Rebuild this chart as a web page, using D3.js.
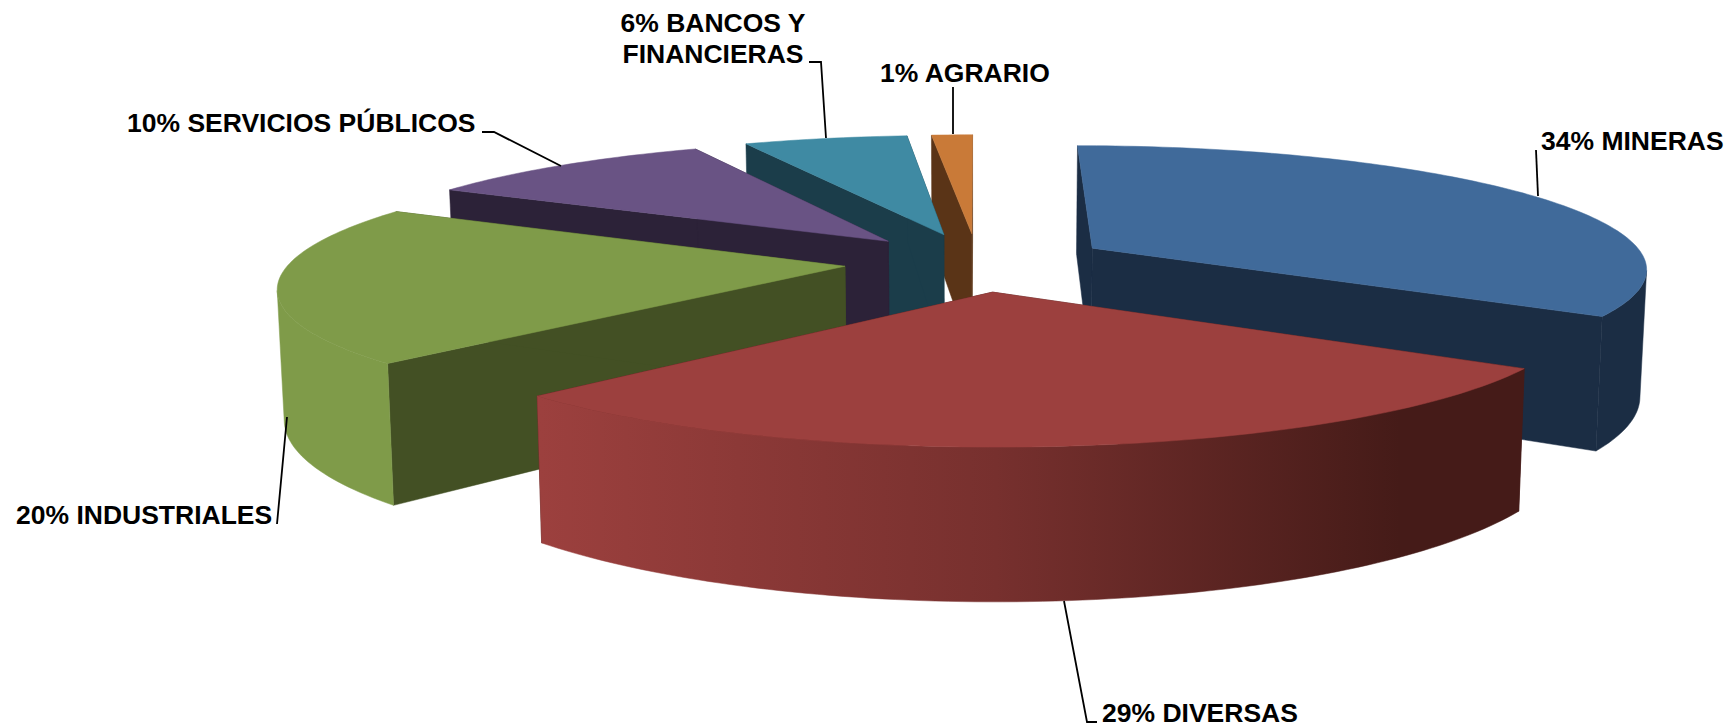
<!DOCTYPE html>
<html>
<head>
<meta charset="utf-8">
<script src="https://cdn.jsdelivr.net/npm/d3@7"></script>
<style>
    html, body { margin: 0; padding: 0; background: #fff; }
    svg { display: block; }
    text { font-family: "Liberation Sans", Arial, sans-serif; font-weight: bold; font-size: 26.5px; fill: #000; }
</style>
</head>
<body>
<div id="chart"></div>
<script>
const sectors = ["MINERAS", "DIVERSAS", "INDUSTRIALES", "SERVICIOS PÚBLICOS", "BANCOS Y FINANCIERAS", "AGRARIO"];
// they round to the printed labels
const shares = [34, 28.5, 20.4, 10.1, 5.6, 1.4];
const topColors = ["#406a9a", "#9c403e", "#7f9b49", "#695384", "#3f8aa3", "#c97a38"];
const sideColors = ["#1b2d44", "#451b18", "#435024", "#2c2238", "#1b3d4a", "#5a3417"];

// label placement: text lines, then the leader line from label to slice
const labelLayout = [
    {lines: ["34% MINERAS"], x: 1541, y: 150, anchor: "start", leader: [[1536, 150], [1538, 196]]},
    {lines: ["29% DIVERSAS"], x: 1102, y: 722, anchor: "start", leader: [[1097, 722], [1087, 722], [1064, 601]]},
    {lines: ["20% INDUSTRIALES"], x: 16, y: 524, anchor: "start", leader: [[277, 524], [287, 417]]},
    {lines: ["10% SERVICIOS PÚBLICOS"], x: 127, y: 132, anchor: "start", leader: [[482, 132], [494, 132], [561, 166]]},
    {lines: ["6% BANCOS Y", "FINANCIERAS"], x: 713, y: 32, anchor: "middle", leader: [[809, 62], [821, 62], [826, 138]]},
    {lines: ["1% AGRARIO"], x: 880, y: 82, anchor: "start", leader: [[953, 87], [953, 134]]}
];

const width = 1734, height = 727;

// camera: plane coordinates are in pie radii, y grows towards the viewer
const view = {cx: 977.5, cy: 262, sx: 555, sy: 121.7, depth: 126, persp: 0.15, taper: 0.01, explode: 0.24};

function project(arc, angle, r, z) {
    let mid = (arc.startAngle + arc.endAngle) / 2;
    let px = view.explode * Math.sin(mid) + r * Math.sin(angle);
    let py = -view.explode * Math.cos(mid) - r * Math.cos(angle);
    let w = 1 - view.persp * py;
    return [
        view.cx + view.sx * px / w * (1 - view.taper * z),
        view.cy + view.sy * py / w + view.depth * z / w
    ];
}

let svg = d3.select("#chart").append("svg")
    .attr("width", width)
    .attr("height", height);

let color = d3.scaleOrdinal().domain(sectors).range(topColors);
let shade = d3.scaleOrdinal().domain(sectors).range(sideColors);

let arcs = d3.pie().sort(null).value(d => d)(shares)
    .map((a, i) => Object.assign(a, {name: sectors[i]}));

// the outer wall gets lighter to the left, same light for every slice
let defs = svg.append("defs");
arcs.forEach((a, i) => {
    let top = color(a.name), dark = shade(a.name);
    let grad = defs.append("linearGradient")
        .attr("id", "wall" + i)
        .attr("gradientUnits", "userSpaceOnUse")
        .attr("x1", 540).attr("x2", 1400).attr("y1", 0).attr("y2", 0);
    grad.append("stop").attr("offset", 0).attr("stop-color", top);
    grad.append("stop").attr("offset", 0.53).attr("stop-color", d3.interpolateRgb(top, dark)(0.42));
    grad.append("stop").attr("offset", 1).attr("stop-color", dark);
});

let line = d3.line();

function sweep(a0, a1) {
    let n = Math.max(2, Math.ceil(Math.abs(a1 - a0) / 0.02));
    return d3.range(n + 1).map(i => a0 + (a1 - a0) * i / n);
}

// back slices first so the front ones paint over them
let order = arcs.map((a, i) => i)
    .sort((p, q) => Math.cos((arcs[q].startAngle + arcs[q].endAngle) / 2) - Math.cos((arcs[p].startAngle + arcs[p].endAngle) / 2));

let group = svg.append("g");

order.forEach(i => {
    let a = arcs[i];
    let g = group.append("g").attr("class", "slice");

    // two cut faces
    [a.startAngle, a.endAngle].forEach(angle => {
        g.append("path")
            .attr("d", line([
                project(a, angle, 0, 0), project(a, angle, 1, 0),
                project(a, angle, 1, 1), project(a, angle, 0, 1)
            ]) + "Z")
            .attr("fill", shade(a.name))
            .attr("stroke", shade(a.name))
            .attr("stroke-width", 0.5);
    });

    // outer wall, only where it faces the viewer (x falls while going clockwise)
    let angles = sweep(a.startAngle, a.endAngle)
        .filter(t => project(a, t + 0.001, 1, 0)[0] < project(a, t, 1, 0)[0]);
    if (angles.length > 1) {
        let pts = angles.map(t => project(a, t, 1, 0))
            .concat(angles.slice().reverse().map(t => project(a, t, 1, 1)));
        g.append("path")
            .attr("d", line(pts) + "Z")
            .attr("fill", "url(#wall" + i + ")")
            .attr("stroke", "url(#wall" + i + ")")
            .attr("stroke-width", 0.5);
    }

    // top face
    let topPts = [project(a, 0, 0, 0)].concat(sweep(a.startAngle, a.endAngle).map(t => project(a, t, 1, 0)));
    g.append("path")
        .attr("d", line(topPts) + "Z")
        .attr("fill", color(a.name))
        .attr("stroke", color(a.name))
        .attr("stroke-width", 0.5);
});

let labels = svg.append("g");
labelLayout.forEach(l => {
    labels.append("path")
        .attr("d", line(l.leader))
        .attr("fill", "none")
        .attr("stroke", "#000")
        .attr("stroke-width", 1.8);
    l.lines.forEach((t, j) => {
        labels.append("text")
            .attr("x", l.x)
            .attr("y", l.y + j * 30.5)
            .attr("text-anchor", l.anchor)
            .text(t);
    });
});
</script>
</body>
</html>
